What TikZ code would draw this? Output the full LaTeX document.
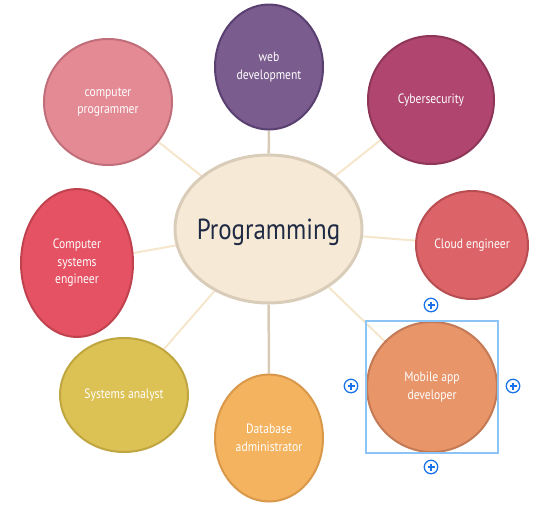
\documentclass[tikz,border=0pt]{standalone}
\usepackage{fontspec}
\setmainfont{PT Sans}[FakeStretch=0.86]
\usetikzlibrary{shapes.geometric,backgrounds,fit}

\definecolor{hubfill}{HTML}{F6E9D5}
\definecolor{hubline}{HTML}{D9CDB9}
\definecolor{hubtext}{HTML}{1F2A44}
\definecolor{spokelight}{HTML}{F5E6CC}
\definecolor{spokedark}{HTML}{D6CCB8}
\definecolor{webfill}{HTML}{7A5C8E}
\definecolor{webline}{HTML}{5A4070}
\definecolor{cyberfill}{HTML}{B0466F}
\definecolor{cyberline}{HTML}{8E3558}
\definecolor{cloudfill}{HTML}{DC6468}
\definecolor{cloudline}{HTML}{B84E52}
\definecolor{mobilefill}{HTML}{E8956A}
\definecolor{mobileline}{HTML}{C47A55}
\definecolor{dbfill}{HTML}{F4B35E}
\definecolor{dbline}{HTML}{D9984A}
\definecolor{analystfill}{HTML}{DCC155}
\definecolor{analystline}{HTML}{BFA640}
\definecolor{sysfill}{HTML}{E55263}
\definecolor{sysline}{HTML}{C0424F}
\definecolor{progfill}{HTML}{E48A95}
\definecolor{progline}{HTML}{C06F7A}
\definecolor{selblue}{HTML}{8CC4F5}
\definecolor{iconblue}{HTML}{1A73E8}

\tikzset{
  bubble/.style={ellipse,draw,line width=2pt,inner sep=-25pt,text=white,align=center,
    font=\fontsize{13.5}{17.5}\selectfont},
  hub/.style={ellipse,draw=hubline,fill=hubfill,line width=3pt,inner sep=-40pt,
    text=hubtext,text depth=0pt,font=\fontsize{29}{32}\selectfont},
  spoke/.style={draw=spokelight,line width=2pt},
  spokegray/.style={draw=spokedark,line width=2.5pt},
  selbox/.style={draw=selblue,line width=1.2pt,inner sep=0pt},
  plusicon/.style={circle,draw=iconblue,line width=1.3pt,minimum size=13.5pt,inner sep=0pt,
    path picture={
      \draw[iconblue,line width=1.3pt] ([xshift=-3.5pt]path picture bounding box.center)
        -- ([xshift=3.5pt]path picture bounding box.center);
      \draw[iconblue,line width=1.3pt] ([yshift=-3.5pt]path picture bounding box.center)
        -- ([yshift=3.5pt]path picture bounding box.center);}}
}

\begin{document}
\begin{tikzpicture}[x=1pt,y=-1pt]
\useasboundingbox (0,0) rectangle (553,507);
% Programming careers mind map
\node[hub,minimum width=187pt,minimum height=148pt] (Programming) at (268.5,229) {Programming};
\node[bubble,draw=webline,fill=webfill,minimum width=108pt,minimum height=125pt] (WebDev) at (269,67) {web\\development};
\node[bubble,draw=cyberline,fill=cyberfill,minimum width=126pt,minimum height=128pt] (Cyber) at (431,100) {Cybersecurity};
\node[bubble,draw=cloudline,fill=cloudfill,minimum width=112pt,minimum height=108pt] (Cloud) at (472,245) {Cloud engineer};
\node[bubble,draw=mobileline,fill=mobilefill,minimum width=130pt,minimum height=130pt] (Mobile) at (432,387) {Mobile app\\developer};
\node[bubble,draw=dbline,fill=dbfill,minimum width=108pt,minimum height=127pt] (DBAdmin) at (269,438) {Database\\administrator};
\node[bubble,draw=analystline,fill=analystfill,minimum width=128pt,minimum height=114pt] (Analyst) at (124,395) {Systems analyst};
\node[bubble,draw=sysline,fill=sysfill,minimum width=112pt,minimum height=148pt] (SysEng) at (77,263) {Computer\\systems\\engineer};
\node[bubble,draw=progline,fill=progfill,minimum width=128pt,minimum height=126pt] (Programmer) at (108,102) {computer\\programmer};

\begin{scope}[on background layer]
\draw[spokegray] (Programming) -- (WebDev);
\draw[spoke] (Programming) -- (Cyber);
\draw[spoke] (Programming) -- (Cloud);
\draw[spoke] (Programming) -- (Mobile);
\draw[spokegray] (Programming) -- (DBAdmin);
\draw[spoke] (Programming) -- (Analyst);
\draw[spoke] (Programming) -- (SysEng);
\draw[spoke] (Programming) -- (Programmer);
\end{scope}

% selection handles
\node[selbox,fit=(Mobile)] (Selection) {};
\node[plusicon] (PlusTop) at (431,305) {};
\node[plusicon] (PlusLeft) at (351,386) {};
\node[plusicon] (PlusRight) at (513,386) {};
\node[plusicon] (PlusBottom) at (431,467) {};
\end{tikzpicture}
\end{document}
